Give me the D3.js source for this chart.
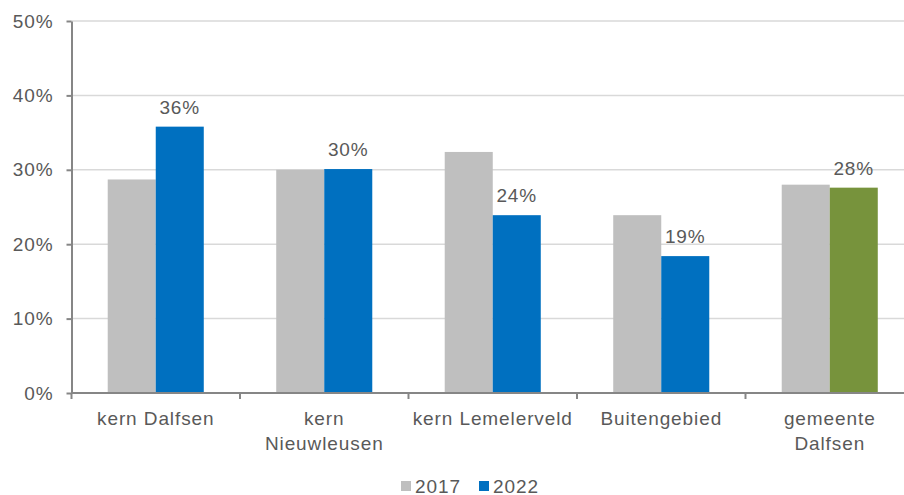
<!DOCTYPE html>
<html>
<head>
<meta charset="utf-8">
<script src="https://cdn.jsdelivr.net/npm/d3@7"></script>
<style>
  body { margin: 0; background: #fff; }
  text { font-family: "Liberation Sans", Arial, sans-serif; fill: #595959; letter-spacing: 0.9px; }
</style>
</head>
<body>
<div id="chart"></div>
<script>
// data
const categories = [["kern Dalfsen"], ["kern", "Nieuwleusen"], ["kern Lemelerveld"], ["Buitengebied"], ["gemeente", "Dalfsen"]];
const values2017 = [28.7, 30.0, 32.4, 23.9, 28.0];
const values2022 = [35.8, 30.1, 23.9, 18.4, 27.6];
const labels2022 = ["36%", "30%", "24%", "19%", "28%"];
const seriesNames = ["2017", "2022"];
const yTicks = [0, 10, 20, 30, 40, 50];

let width = 904, height = 495;
let margin = {left: 71.5, right: -10, top: 21, bottom: 102};
let fontSize = "19px";

let svg = d3.select("#chart")
    .append("svg")
    .attr("width", width)
    .attr("height", height);

let x = d3.scaleBand()
    .domain(d3.range(categories.length))
    .range([margin.left, width - margin.right]);

let y = d3.scaleLinear()
    .domain([0, 50])
    .range([height - margin.bottom, margin.top]);

let barW = x.bandwidth() * 0.285;

// gridlines
svg.selectAll(".grid")
    .data(yTicks.slice(1))
    .enter()
    .append("line")
    .attr("x1", margin.left)
    .attr("x2", width)
    .attr("y1", d => y(d))
    .attr("y2", d => y(d))
    .attr("stroke", "#d9d9d9")
    .attr("stroke-width", 1.5);

// bars 2017
svg.selectAll(".b17")
    .data(values2017)
    .enter()
    .append("rect")
    .attr("x", (d, i) => x(i) + x.bandwidth() / 2 - barW)
    .attr("y", d => y(d))
    .attr("width", barW)
    .attr("height", d => y(0) - y(d))
    .attr("fill", "#bfbfbf");

// bars 2022 (last one green)
svg.selectAll(".b22")
    .data(values2022)
    .enter()
    .append("rect")
    .attr("x", (d, i) => x(i) + x.bandwidth() / 2)
    .attr("y", d => y(d))
    .attr("width", barW)
    .attr("height", d => y(0) - y(d))
    .attr("fill", (d, i) => i === values2022.length - 1 ? "#77933c" : "#0070c0");

// value labels
svg.selectAll(".lbl")
    .data(values2022)
    .enter()
    .append("text")
    .attr("x", (d, i) => x(i) + x.bandwidth() / 2 + barW / 2)
    .attr("y", d => y(d) - 13)
    .attr("text-anchor", "middle")
    .style("font-size", fontSize)
    .text((d, i) => labels2022[i]);

// y axis
let yAxis = svg.append("g")
    .attr("transform", "translate(" + margin.left + ",0)")
    .call(d3.axisLeft(y).tickValues(yTicks).tickFormat(d => d + "%").tickSize(5).tickSizeOuter(0).tickPadding(13));
yAxis.select(".domain").attr("stroke", "#868686").attr("stroke-width", 2);
yAxis.selectAll(".tick line").attr("stroke", "#868686").attr("stroke-width", 2);
yAxis.selectAll(".tick text").style("font-size", fontSize).attr("fill", "#595959");

// x axis
let xAxis = svg.append("g")
    .attr("transform", "translate(0," + y(0) + ")");
xAxis.append("line")
    .attr("x1", margin.left)
    .attr("x2", width)
    .attr("stroke", "#868686")
    .attr("stroke-width", 2);
xAxis.selectAll(".xt")
    .data(d3.range(categories.length))
    .enter()
    .append("line")
    .attr("x1", d => x(d))
    .attr("x2", d => x(d))
    .attr("y1", 0)
    .attr("y2", 6)
    .attr("stroke", "#868686")
    .attr("stroke-width", 2);
xAxis.selectAll(".xl")
    .data(categories)
    .enter()
    .append("text")
    .attr("x", (d, i) => x(i) + x.bandwidth() / 2)
    .attr("y", 32)
    .attr("text-anchor", "middle")
    .style("font-size", fontSize)
    .each(function(d) {
        d.forEach((line, j) => {
            d3.select(this).append("tspan")
                .attr("x", d3.select(this).attr("x"))
                .attr("dy", j === 0 ? 0 : 25)
                .text(line);
        });
    });

// legend
let legendColors = ["#bfbfbf", "#0070c0"];
let legendX = [401, 479];
let legend = svg.selectAll(".leg")
    .data(seriesNames)
    .enter()
    .append("g")
    .attr("transform", (d, i) => "translate(" + legendX[i] + ",486)");
legend.append("rect")
    .attr("x", 0)
    .attr("y", -5)
    .attr("width", 10)
    .attr("height", 10)
    .attr("fill", (d, i) => legendColors[i]);
legend.append("text")
    .attr("x", 14)
    .attr("y", 6.5)
    .style("font-size", fontSize)
    .text(d => d);
</script>
</body>
</html>
